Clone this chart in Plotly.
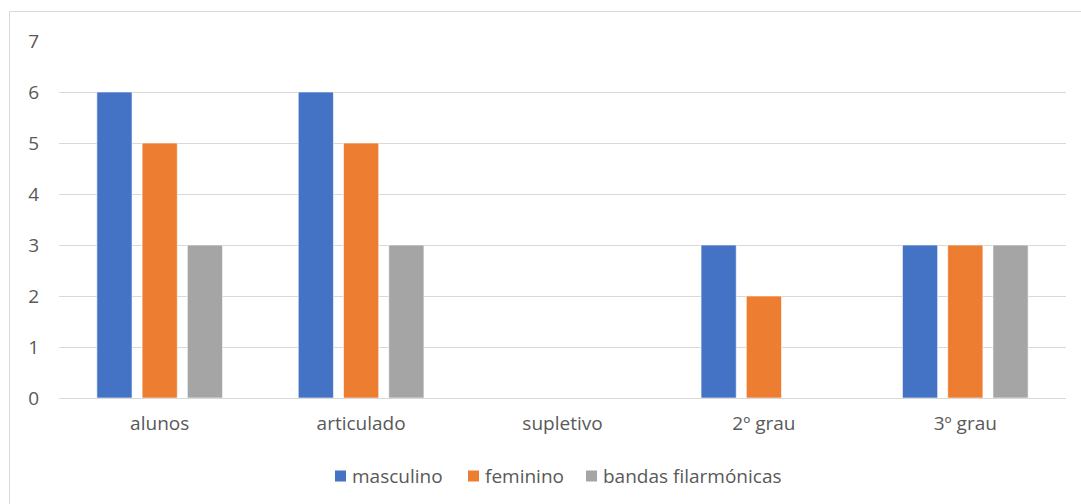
import plotly.graph_objects as go

categories = ["alunos", "articulado", "supletivo", "2º grau", "3º grau"]
masculino = [6, 6, None, 3, 3]
feminino = [5, 5, None, 2, 3]
bandas = [3, 3, None, None, 3]
y_ticks = [0, 1, 2, 3, 4, 5, 6, 7]

W, H = 1081, 504
ML, MR, MT, MB = 59, 15, 41, 106
TEXT = "#595959"
FONT = "Open Sans"
FS = 19

series = [
    ("masculino", masculino, "#4472C4"),
    ("feminino", feminino, "#ED7D31"),
    ("bandas filarmónicas", bandas, "#A5A5A5"),
]

fig = go.Figure()
for name, vals, color in series:
    fig.add_trace(go.Bar(
        x=categories, y=vals, name=name, showlegend=False,
        marker=dict(color=color, line=dict(color="rgba(255,255,255,0.6)", width=1)),
    ))

pw, ph = W - ML - MR, H - MT - MB
def px_x(p):
    return (p - ML) / pw
def px_y(p):
    return 1 - (p - MT) / ph

# chart-area frame (top and left edges visible)
fig.add_shape(type="line", xref="paper", yref="paper",
              x0=px_x(9.5), x1=px_x(1090), y0=px_y(11.5), y1=px_y(11.5),
              line=dict(color="#D9D9D9", width=1))
fig.add_shape(type="line", xref="paper", yref="paper",
              x0=px_x(9.5), x1=px_x(9.5), y0=px_y(11.5), y1=px_y(520),
              line=dict(color="#D9D9D9", width=1))

# legend: small square swatch followed by the series name
legend_left = [335, 468, 586]
legend_cy = 476
for (name, _, color), lx in zip(series, legend_left):
    fig.add_shape(type="rect", xref="paper", yref="paper",
                  x0=px_x(lx), x1=px_x(lx + 11),
                  y0=px_y(legend_cy - 5.5), y1=px_y(legend_cy + 5.5),
                  fillcolor=color, line=dict(width=0))
    fig.add_annotation(text=name, xref="paper", yref="paper",
                       x=px_x(lx + 15), y=px_y(legend_cy), xanchor="left", yanchor="middle",
                       showarrow=False, font=dict(family=FONT, size=FS, color=TEXT))

fig.update_layout(
    width=W, height=H,
    margin=dict(l=ML, r=MR, t=MT, b=MB),
    paper_bgcolor="white", plot_bgcolor="white",
    barmode="group", bargap=0.326, bargroupgap=0.222,
    font=dict(family=FONT, size=FS, color=TEXT),
    showlegend=False,
    xaxis=dict(showgrid=False, showline=False, zeroline=False, ticks="",
               ticklabelstandoff=12, tickfont=dict(size=FS, color=TEXT)),
    yaxis=dict(range=[0, 7], tickvals=y_ticks, showgrid=True, gridcolor="#D9D9D9",
               gridwidth=1, zeroline=True, zerolinecolor="#D9D9D9", zerolinewidth=1,
               showline=False, ticks="", ticklabelstandoff=19,
               tickfont=dict(size=FS, color=TEXT)),
)

fig.write_html("out.html")
